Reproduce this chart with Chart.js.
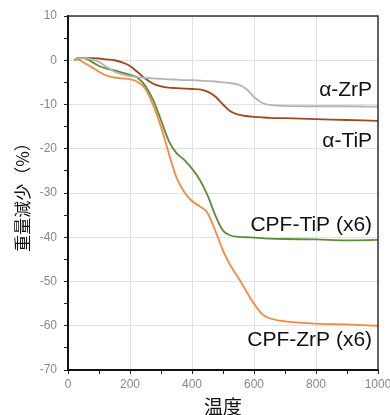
<!DOCTYPE html>
<html>
<head>
<meta charset="utf-8">
<script src="https://cdn.jsdelivr.net/npm/chart.js@4"></script>
<style>
  html, body { margin: 0; padding: 0; background: #fff; }
  #wrap { width: 390px; height: 415px; }
</style>
</head>
<body>
<div id="wrap"><canvas id="tga" width="390" height="415"></canvas></div>
<script>
// temperature (x) and weight loss (%)
const temps = [20, 30, 50, 75, 100, 125, 150, 175, 200, 225, 250, 275, 300, 325, 350, 375, 400, 425, 450, 475, 500, 525, 550, 575, 600, 625, 650, 700, 800, 900, 1000];
const zrp = [0, 0.4, 0.5, 0.2, -0.4, -1.5, -2.6, -3.2, -3.6, -3.8, -4.0, -4.1, -4.2, -4.3, -4.4, -4.5, -4.5, -4.6, -4.7, -4.8, -5.0, -5.2, -5.5, -6.5, -8.3, -9.6, -10.1, -10.3, -10.4, -10.4, -10.5];
const tip = [0, 0.4, 0.5, 0.5, 0.4, 0.2, 0, -0.5, -1.3, -2.7, -4.2, -5.3, -5.9, -6.2, -6.3, -6.4, -6.5, -6.6, -7.1, -8.2, -10.0, -11.6, -12.3, -12.6, -12.8, -12.9, -13.0, -13.1, -13.3, -13.5, -13.7];
const cpfTip = [0, 0.4, 0.5, -0.3, -1.3, -1.9, -2.3, -2.8, -3.3, -4.0, -5.8, -9.0, -13.5, -18.2, -21.0, -22.5, -24.5, -27.0, -30.5, -35.0, -38.5, -39.6, -39.9, -40.0, -40.1, -40.2, -40.3, -40.4, -40.5, -40.7, -40.6];
const cpfZrp = [0, 0.2, -0.5, -1.5, -2.6, -3.5, -3.9, -4.1, -4.3, -4.9, -6.5, -10.2, -15.0, -21.0, -26.5, -29.8, -31.8, -33.0, -34.5, -38.5, -43.0, -46.5, -49.2, -52.2, -55.0, -57.3, -58.3, -59.0, -59.5, -59.7, -60.0];
const seriesNames = ['α-ZrP', 'α-TiP', 'CPF-TiP (x6)', 'CPF-ZrP (x6)'];
// label anchor: x temp for right edge, y value for middle
const labelAt = [[981, -6.8], [981, -18.4], [981, -37.2], [981, -63.2]];

const colors = ['#b3b3b3', '#9c4a1f', '#5b8d3b', '#f38a3d'];
const allSeries = [zrp, tip, cpfTip, cpfZrp];

const pts = vals => temps.map((t, i) => ({ x: t, y: vals[i] }));

// draws the frame on top/right and the curve names
const extras = {
    id: 'extras',
    afterDatasetsDraw(chart) {
        const { ctx, chartArea: a, scales } = chart;
        ctx.save();
        ctx.strokeStyle = '#333';
        ctx.lineWidth = 1.5;
        ctx.beginPath();
        ctx.moveTo(a.left, a.top);
        ctx.lineTo(a.right, a.top);
        ctx.lineTo(a.right, a.bottom);
        ctx.stroke();
        ctx.fillStyle = '#111';
        ctx.font = '21px "Liberation Sans", Arial, sans-serif';
        ctx.textAlign = 'right';
        ctx.textBaseline = 'middle';
        seriesNames.forEach((n, i) => {
            ctx.fillText(n, scales.x.getPixelForValue(labelAt[i][0]), scales.y.getPixelForValue(labelAt[i][1]));
        });
        ctx.restore();
    }
};

new Chart(document.getElementById('tga'), {
    type: 'line',
    data: {
        datasets: allSeries.map((s, i) => ({
            label: seriesNames[i],
            data: pts(s),
            borderColor: colors[i],
            borderWidth: 1.8,
            pointRadius: 0,
            fill: false,
            cubicInterpolationMode: 'monotone'
        }))
    },
    options: {
        responsive: false,
        animation: false,
        layout: { padding: { top: 16, right: 12, left: 0, bottom: 0 } },
        plugins: { legend: { display: false }, tooltip: { enabled: false } },
        scales: {
            x: {
                type: 'linear',
                min: 0, max: 1000,
                afterFit: s => { s.height = 45; s.paddingRight = 0; s.paddingLeft = 0; },
                ticks: {
                    stepSize: 100,
                    autoSkip: false,
                    maxRotation: 0,
                    padding: 3,
                    color: '#888',
                    font: { size: 12, family: '"Liberation Sans", Arial, sans-serif' },
                    callback: v => (v % 200 === 0 ? v : '')
                },
                grid: {
                    color: c => (c.tick && c.tick.value % 200 === 0 ? '#e2e2e2' : 'rgba(0,0,0,0)'),
                    tickColor: '#222',
                    tickLength: 4
                },
                border: { color: '#111', width: 2 },
                title: {
                    display: true,
                    text: '温度',
                    color: '#111',
                    padding: { top: 0, bottom: -1 },
                    font: { size: 19, lineHeight: 1, family: '"Noto Sans CJK JP", sans-serif' }
                }
            },
            y: {
                min: -70, max: 10,
                afterFit: s => { s.width = 68; s.paddingTop = 0; s.paddingBottom = 0; },
                ticks: {
                    stepSize: 5,
                    autoSkip: false,
                    padding: 7,
                    color: '#888',
                    font: { size: 12, family: '"Liberation Sans", Arial, sans-serif' },
                    callback: v => (v % 10 === 0 ? v : '')
                },
                grid: {
                    color: c => (c.tick && c.tick.value % 10 === 0 ? '#e2e2e2' : 'rgba(0,0,0,0)'),
                    tickColor: '#222',
                    tickLength: 4
                },
                border: { color: '#111', width: 2 },
                title: {
                    display: true,
                    text: '重量減少（%）',
                    color: '#111',
                    padding: { top: 14, bottom: 0 },
                    font: { size: 17, lineHeight: 1, family: '"Noto Sans CJK JP", sans-serif' }
                }
            }
        }
    },
    plugins: [extras]
});
</script>
</body>
</html>
